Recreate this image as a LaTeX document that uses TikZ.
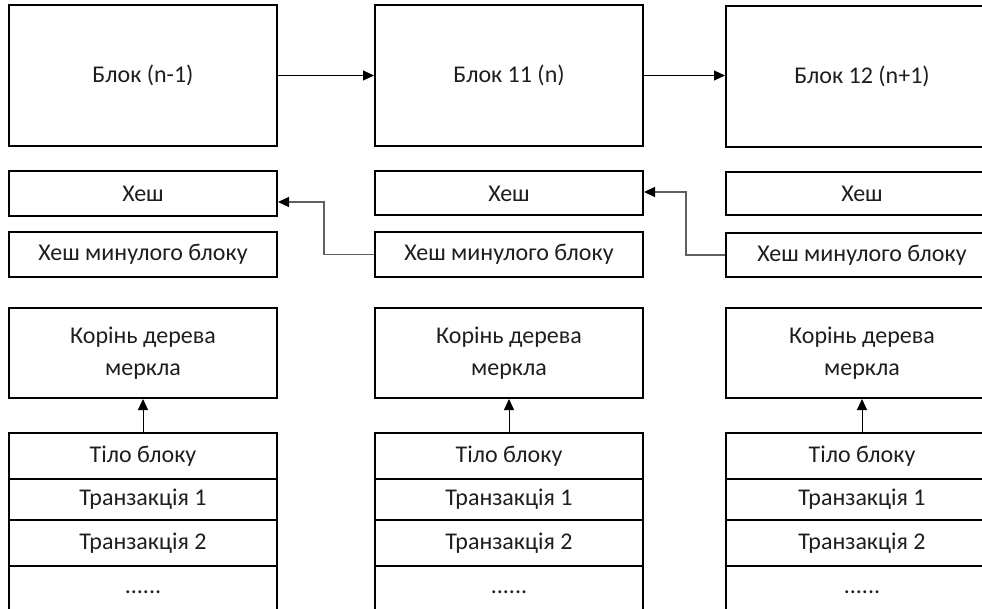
\documentclass[tikz,border=0pt]{standalone}
\usepackage{fontspec}
\setmainfont{Carlito}
\usetikzlibrary{arrows.meta}
\definecolor{txt}{HTML}{1E1E1E}
\definecolor{conn}{HTML}{606060}
\tikzset{
  box/.style={draw=black, line width=2pt, rectangle, inner sep=0pt, align=center,
    text=txt, font=\fontsize{24}{32}\selectfont},
  link/.style={line width=1pt, -{Triangle[length=11pt,width=10pt]}},
  glink/.style={line width=1.2pt, draw=conn, -{Triangle[length=11pt,width=10pt,fill=black,color=black]}}
}
\begin{document}
\begin{tikzpicture}[x=1pt,y=-1pt]
\useasboundingbox (0,0) rectangle (982,609);
\clip (0,0) rectangle (982,609);
% column 1
\node[box, minimum width=268pt, minimum height=141pt] (b1) at (143,75.5) {Блок (n-1)};
\node[box, minimum width=268pt, minimum height=45pt] (h1) at (143,193.5) {Хеш};
\node[box, minimum width=268pt, minimum height=45pt] (p1) at (143,254.5) {Хеш минулого блоку};
\node[box, minimum width=268pt, minimum height=90pt] (m1) at (143,353) {Корінь дерева\\меркла};
\node[box, minimum width=268pt, minimum height=46pt] (t1) at (143,456) {Тіло блоку};
\node[box, minimum width=268pt, minimum height=41pt] (x1) at (143,499.5) {Транзакція 1};
\node[box, minimum width=268pt, minimum height=46pt] (y1) at (143,543) {Транзакція 2};
\node[box, minimum width=268pt, minimum height=52pt] (d1) at (143,592) {......};
% column 2
\node[box, minimum width=268pt, minimum height=141pt] (b2) at (509,75.5) {Блок 11 (n)};
\node[box, minimum width=268pt, minimum height=44pt] (h2) at (509,193.5) {Хеш};
\node[box, minimum width=268pt, minimum height=45pt] (p2) at (509,254.5) {Хеш минулого блоку};
\node[box, minimum width=268pt, minimum height=90pt] (m2) at (509,353) {Корінь дерева\\меркла};
\node[box, minimum width=268pt, minimum height=46pt] (t2) at (509,456) {Тіло блоку};
\node[box, minimum width=268pt, minimum height=41pt] (x2) at (509,499.5) {Транзакція 1};
\node[box, minimum width=268pt, minimum height=46pt] (y2) at (509,543) {Транзакція 2};
\node[box, minimum width=268pt, minimum height=52pt] (d2) at (509,592) {......};
% column 3
\node[box, minimum width=272pt, minimum height=141pt] (b3) at (862,76.5) {Блок 12 (n+1)};
\node[box, minimum width=272pt, minimum height=43pt] (h3) at (862,193.5) {Хеш};
\node[box, minimum width=272pt, minimum height=44pt] (p3) at (862,255) {Хеш минулого блоку};
\node[box, minimum width=272pt, minimum height=90pt] (m3) at (862,353) {Корінь дерева\\меркла};
\node[box, minimum width=272pt, minimum height=46pt] (t3) at (862,456) {Тіло блоку};
\node[box, minimum width=272pt, minimum height=41pt] (x3) at (862,499.5) {Транзакція 1};
\node[box, minimum width=272pt, minimum height=46pt] (y3) at (862,543) {Транзакція 2};
\node[box, minimum width=272pt, minimum height=52pt] (d3) at (862,592) {......};
% connectors
\draw[link] (b1.east) -- (b2.west);
\draw[link] (b2.east) -- (b3.west |- b2.east);
\draw[glink] (p2.west) -- ++(-50,0) |- ([yshift=-8.5pt]h1.east);
\draw[glink] (p3.west) -- ++(-39,0) |- ([yshift=1.5pt]h2.east);
\draw[link] (t1.north) -- (m1.south);
\draw[link] (t2.north) -- (m2.south);
\draw[link] (t3.north) -- (m3.south);
\end{tikzpicture}
\end{document}
